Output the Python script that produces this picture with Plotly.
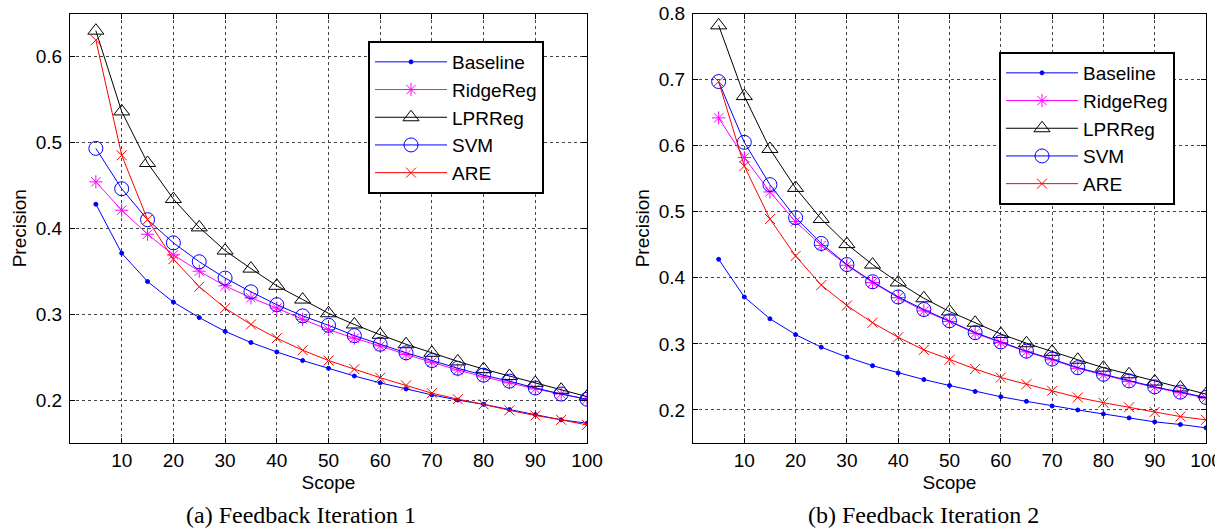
import plotly.graph_objects as go

scope = [5, 10, 15, 20, 25, 30, 35, 40, 45, 50, 55, 60, 65, 70, 75, 80, 85, 90, 95, 100]
x_ticks = [10, 20, 30, 40, 50, 60, 70, 80, 90, 100]

# Feedback Iteration 1
baseline_1 = [0.428, 0.371, 0.338, 0.314, 0.296, 0.280, 0.267, 0.256, 0.246, 0.237,
              0.228, 0.220, 0.213, 0.206, 0.200, 0.195, 0.189, 0.183, 0.177, 0.173]
ridge_1 = [0.454, 0.421, 0.393, 0.369, 0.350, 0.333, 0.319, 0.307, 0.294, 0.282,
           0.272, 0.263, 0.253, 0.244, 0.235, 0.227, 0.220, 0.213, 0.207, 0.201]
lpr_1 = [0.630, 0.536, 0.476, 0.434, 0.401, 0.374, 0.353, 0.333, 0.317, 0.301,
         0.288, 0.276, 0.265, 0.255, 0.245, 0.236, 0.228, 0.220, 0.212, 0.204]
svm_1 = [0.493, 0.446, 0.410, 0.383, 0.361, 0.342, 0.326, 0.311, 0.298, 0.287,
         0.275, 0.265, 0.255, 0.246, 0.237, 0.229, 0.222, 0.214, 0.207, 0.201]
are_1 = [0.619, 0.485, 0.410, 0.364, 0.332, 0.307, 0.288, 0.272, 0.258, 0.246,
         0.236, 0.226, 0.217, 0.208, 0.201, 0.195, 0.188, 0.182, 0.177, 0.171]

# Feedback Iteration 2
baseline_2 = [0.428, 0.371, 0.338, 0.314, 0.295, 0.280, 0.267, 0.256, 0.246, 0.237,
              0.228, 0.220, 0.213, 0.206, 0.200, 0.194, 0.188, 0.182, 0.178, 0.173]
ridge_2 = [0.642, 0.582, 0.530, 0.485, 0.449, 0.419, 0.393, 0.370, 0.350, 0.334,
           0.316, 0.302, 0.288, 0.276, 0.263, 0.253, 0.243, 0.234, 0.226, 0.218]
lpr_2 = [0.782, 0.675, 0.595, 0.536, 0.489, 0.451, 0.420, 0.393, 0.369, 0.349,
         0.332, 0.315, 0.301, 0.288, 0.276, 0.264, 0.254, 0.243, 0.234, 0.224]
svm_2 = [0.697, 0.605, 0.541, 0.491, 0.452, 0.420, 0.394, 0.371, 0.352, 0.335,
         0.317, 0.303, 0.289, 0.277, 0.264, 0.254, 0.244, 0.235, 0.227, 0.219]
are_2 = [0.697, 0.569, 0.489, 0.433, 0.389, 0.358, 0.332, 0.310, 0.291, 0.276,
         0.262, 0.249, 0.239, 0.229, 0.219, 0.211, 0.204, 0.197, 0.190, 0.185]

names = ["Baseline", "RidgeReg", "LPRReg", "SVM", "ARE"]
colors = ["#0000FF", "#FF00FF", "#000000", "#0000FF", "#FF0000"]
symbols = ["circle", "asterisk-open", "triangle-up-open", "circle-open", "x-thin-open"]
sizes = [4, 11, 14, 14, 10]

panels = [
    dict(series=[baseline_1, ridge_1, lpr_1, svm_1, are_1], xa="x", ya="y", legend="legend"),
    dict(series=[baseline_2, ridge_2, lpr_2, svm_2, are_2], xa="x2", ya="y2", legend="legend2"),
]

fig = go.Figure()
for p in panels:
    for name, vals, c, s, sz in zip(names, p["series"], colors, symbols, sizes):
        fig.add_trace(go.Scatter(
            x=scope, y=vals, name=name, mode="lines+markers",
            line=dict(color=c, width=1),
            marker=dict(symbol=s, size=sz, color=c, line=dict(color=c, width=1)),
            xaxis=p["xa"], yaxis=p["ya"], legend=p["legend"],
        ))

W, H = 1215, 529
font_family = "Liberation Sans, Arial, sans-serif"
FS = 19

def xaxis_cfg(dom, anchor):
    return dict(domain=dom, range=[0, 100], tickvals=x_ticks, ticks="inside", ticklen=5,
                tickcolor="black", showline=True, linecolor="black", linewidth=1,
                mirror="allticks", showgrid=True, gridcolor="#444444", griddash="dot",
                gridwidth=1, zeroline=False, tickfont=dict(size=FS, color="black"),
                ticklabelstandoff=0, ticklabeloverflow="allow", automargin=False,
                anchor=anchor,
                title=dict(text="Scope", font=dict(size=FS, color="black"), standoff=5))

def yaxis_cfg(rng, ticks, anchor):
    return dict(domain=[1 - 443 / H, 1 - 13.5 / H], range=rng, tickvals=ticks,
                tickformat=".1f", ticks="inside", ticklen=5, tickcolor="black",
                showline=True, linecolor="black", linewidth=1, mirror="allticks",
                showgrid=True, gridcolor="#444444", griddash="dot", gridwidth=1,
                zeroline=False, tickfont=dict(size=FS, color="black"),
                ticklabelstandoff=3, automargin=False, anchor=anchor,
                title=dict(text="Precision", font=dict(size=FS, color="black"), standoff=4))

legend_common = dict(bgcolor="white", bordercolor="black", borderwidth=2,
                     font=dict(size=FS, color="black", family=font_family),
                     itemwidth=72, xanchor="left", yanchor="top", tracegroupgap=0)

fig.update_layout(
    width=W, height=H,
    margin=dict(l=0, r=0, t=0, b=0, autoexpand=False),
    paper_bgcolor="white", plot_bgcolor="white",
    font=dict(family=font_family, color="black"),
    xaxis=xaxis_cfg([70 / W, 587 / W], "y"),
    yaxis=yaxis_cfg([0.15, 0.65], [0.2, 0.3, 0.4, 0.5, 0.6], "x"),
    xaxis2=xaxis_cfg([693 / W, 1206 / W], "y2"),
    yaxis2=yaxis_cfg([0.15, 0.8], [0.2, 0.3, 0.4, 0.5, 0.6, 0.7, 0.8], "x2"),
    legend=dict(x=368 / W, y=1 - 41 / H, **legend_common),
    legend2=dict(x=999 / W, y=1 - 52 / H, **legend_common),
    annotations=[
        dict(text="(a) Feedback Iteration 1", x=301 / W, y=1 - 515 / H, xref="paper",
             yref="paper", showarrow=False, xanchor="center", yanchor="middle",
             font=dict(family="Liberation Serif, Times New Roman, serif", size=24, color="black")),
        dict(text="(b) Feedback Iteration 2", x=923 / W, y=1 - 515 / H, xref="paper",
             yref="paper", showarrow=False, xanchor="center", yanchor="middle",
             font=dict(family="Liberation Serif, Times New Roman, serif", size=24, color="black")),
    ],
)

fig.write_html("out.html", config={"displayModeBar": False},
               post_script="document.body.style.margin='0';document.body.style.overflow='hidden';")
